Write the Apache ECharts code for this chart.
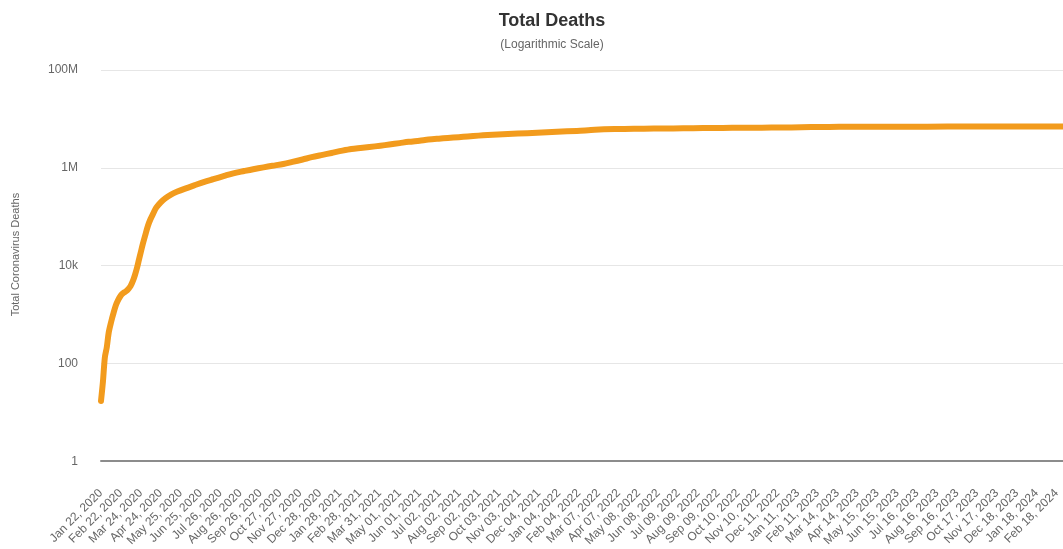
<!DOCTYPE html>
<html>
<head>
<meta charset="utf-8">
<script src="https://cdn.jsdelivr.net/npm/echarts@6/dist/echarts.min.js"></script>
<style>
  html, body { margin: 0; padding: 0; background: #ffffff; }
  #chart { width: 1063px; height: 549px; }
</style>
</head>
<body>
<div id="chart"></div>
<script>
// ---- data ----
const sampleDates = [
  '2020-01-22','2020-01-25','2020-01-28','2020-01-31','2020-02-03','2020-02-07','2020-02-10','2020-02-14',
  '2020-02-18','2020-02-22','2020-02-26','2020-03-01','2020-03-05','2020-03-08','2020-03-12','2020-03-15',
  '2020-03-18','2020-03-21','2020-03-24','2020-03-27','2020-03-31','2020-04-04','2020-04-08','2020-04-12',
  '2020-04-17','2020-04-24','2020-05-01','2020-05-10','2020-05-20','2020-06-01','2020-06-15','2020-07-01',
  '2020-07-15','2020-08-01','2020-08-15','2020-09-01','2020-09-15','2020-10-01','2020-10-15','2020-11-01',
  '2020-11-15','2020-12-01','2020-12-15','2021-01-01','2021-01-15','2021-02-01','2021-02-15','2021-03-01',
  '2021-03-15','2021-04-01','2021-04-15','2021-05-01','2021-05-15','2021-06-01','2021-06-15','2021-07-01',
  '2021-07-15','2021-08-01','2021-08-15','2021-09-01','2021-09-15','2021-10-01','2021-11-01','2021-12-01',
  '2022-01-01','2022-02-01','2022-03-01','2022-04-01','2022-05-01','2022-06-01','2022-07-01','2022-08-01',
  '2022-09-01','2022-10-01','2022-11-01','2022-12-01','2023-01-01','2023-02-01','2023-03-01','2023-04-01',
  '2023-05-01','2023-06-01','2023-07-01','2023-09-01','2023-11-01','2024-01-01','2024-02-28'
];
const totalDeaths = [
  17, 42, 132, 213, 426, 724, 1018, 1526,
  2007, 2462, 2770, 2996, 3380, 3800, 4980, 6500,
  8900, 13000, 18900, 27300, 42300, 64700, 88500, 114000,
  153000, 197000, 238000, 283000, 326000, 375000, 436000, 516000,
  585000, 683000, 772000, 859000, 935000, 1020000, 1100000, 1200000,
  1320000, 1480000, 1650000, 1840000, 2010000, 2240000, 2420000, 2540000,
  2660000, 2830000, 2990000, 3200000, 3400000, 3590000, 3780000, 3940000,
  4070000, 4230000, 4380000, 4550000, 4690000, 4820000, 5010000, 5220000,
  5450000, 5680000, 5980000, 6180000, 6280000, 6340000, 6370000, 6440000,
  6520000, 6570000, 6610000, 6650000, 6710000, 6810000, 6860000, 6890000,
  6910000, 6930000, 6940000, 6960000, 6980000, 7000000, 7020000
];
const xTickLabels = [
  'Jan 22, 2020','Feb 22, 2020','Mar 24, 2020','Apr 24, 2020','May 25, 2020','Jun 25, 2020','Jul 26, 2020',
  'Aug 26, 2020','Sep 26, 2020','Oct 27, 2020','Nov 27, 2020','Dec 28, 2020','Jan 28, 2021','Feb 28, 2021',
  'Mar 31, 2021','May 01, 2021','Jun 01, 2021','Jul 02, 2021','Aug 02, 2021','Sep 02, 2021','Oct 03, 2021',
  'Nov 03, 2021','Dec 04, 2021','Jan 04, 2022','Feb 04, 2022','Mar 07, 2022','Apr 07, 2022','May 08, 2022',
  'Jun 08, 2022','Jul 09, 2022','Aug 09, 2022','Sep 09, 2022','Oct 10, 2022','Nov 10, 2022','Dec 11, 2022',
  'Jan 11, 2023','Feb 11, 2023','Mar 14, 2023','Apr 14, 2023','May 15, 2023','Jun 15, 2023','Jul 16, 2023',
  'Aug 16, 2023','Sep 16, 2023','Oct 17, 2023','Nov 17, 2023','Dec 18, 2023','Jan 18, 2024','Feb 18, 2024'
];
const yTickValues = [1, 100, 10000, 1000000, 100000000];
const yTickLabels = ['1', '100', '10k', '1M', '100M'];

// ---- build ----
const DAY = 86400000;
const startMs = Date.parse(sampleDates[0]);
const dayIndex = sampleDates.map(d => Math.round((Date.parse(d) - startMs) / DAY));
const seriesData = dayIndex.map((d, i) => [d, totalDeaths[i]]);
const TICK_STEP = 31;

const FONT = '"Liberation Sans", Arial, Helvetica, sans-serif';
const chart = echarts.init(document.getElementById('chart'), null, { renderer: 'canvas' });
chart.setOption({
  animation: false,
  backgroundColor: '#ffffff',
  textStyle: { fontFamily: FONT },
  title: {
    text: 'Total Deaths',
    subtext: '(Logarithmic Scale)',
    left: 547,
    textAlign: 'center',
    top: 7,
    itemGap: 9,
    textStyle: { fontSize: 18, fontWeight: 'bold', color: '#333333', fontFamily: FONT },
    subtextStyle: { fontSize: 12, color: '#666666', fontFamily: FONT }
  },
  grid: { left: 101, right: -8, top: 70, bottom: 86 },
  xAxis: {
    type: 'value',
    min: 0,
    max: 1498,
    interval: TICK_STEP,
    axisLine: { show: true, lineStyle: { color: '#8c8c8c', width: 2 } },
    axisTick: { show: false },
    splitLine: { show: false },
    axisLabel: {
      rotate: 45,
      margin: 30,
      fontSize: 12,
      color: '#666666',
      fontFamily: FONT,
      showMaxLabel: false,
      formatter: function (v) {
        if (v % TICK_STEP !== 0) return '';
        return xTickLabels[v / TICK_STEP] || '';
      }
    }
  },
  yAxis: {
    type: 'log',
    logBase: 100,
    min: 1,
    max: 100000000,
    splitNumber: 4,
    name: 'Total Coronavirus Deaths',
    nameLocation: 'middle',
    nameGap: 80,
    nameTextStyle: { fontSize: 11, color: '#666666', fontFamily: FONT, padding: [0, 0, 0, 22] },
    axisLine: { show: false },
    axisTick: { show: false },
    splitLine: { show: true, lineStyle: { color: '#e6e6e6', width: 1 } },
    axisLabel: {
      margin: 23,
      fontSize: 12,
      color: '#666666',
      fontFamily: FONT,
      formatter: function (v) {
        const i = yTickValues.findIndex(t => Math.abs(t - v) / t < 1e-6);
        return i >= 0 ? yTickLabels[i] : '';
      }
    }
  },
  series: [{
    type: 'line',
    data: seriesData,
    smooth: 0.3,
    showSymbol: false,
    lineStyle: { color: '#F29B1D', width: 6, cap: 'round', join: 'round' },
    itemStyle: { color: '#F29B1D' }
  }]
});
</script>
</body>
</html>
